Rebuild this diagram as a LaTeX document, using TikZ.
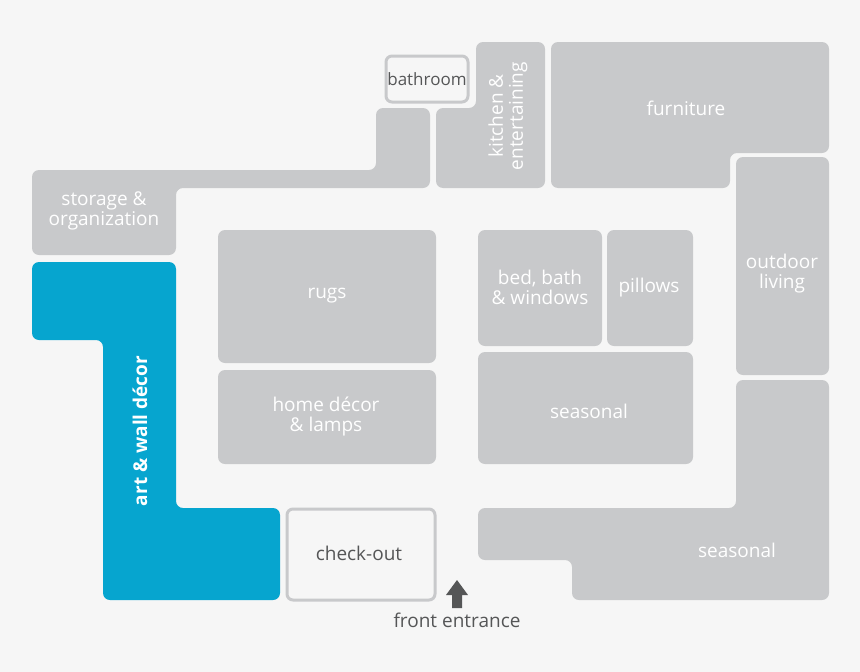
\documentclass[tikz,border=0pt]{standalone}
\usepackage{fontspec}
\setmainfont{Open Sans}
\begin{document}
\begin{tikzpicture}[x=1pt,y=-1pt,
 blk/.style={fill=gc,draw=none,rounded corners=7pt},
 outl/.style={fill=bg,draw=gc,line width=3pt,rounded corners=6pt},
 lbl/.style={text=white,font=\fontsize{19}{20}\selectfont,align=center,inner sep=0},
]
\definecolor{gc}{HTML}{C8C9CB}
\definecolor{bl}{HTML}{06A5CF}
\definecolor{bg}{HTML}{F6F6F6}
\definecolor{dk}{HTML}{555657}
\fill[bg] (0,0) rectangle (860,672);
\useasboundingbox (0,0) rectangle (860,672);
% shapes
\fill[blk] (32,170) -- (376,170) -- (376,108) -- (430,108) -- (430,188) -- (176,188) -- (176,255) -- (32,255) -- cycle;
\fill[blk] (476,42) -- (545,42) -- (545,188) -- (436,188) -- (436,108) -- (476,108) -- cycle;
\fill[blk] (551,42) -- (829,42) -- (829,153) -- (730,153) -- (730,188) -- (551,188) -- cycle;
\fill[blk] (736,157) rectangle (829,375);
\fill[blk] (736,380) -- (829,380) -- (829,600) -- (572,600) -- (572,560) -- (478,560) -- (478,508) -- (736,508) -- cycle;
\fill[bl,rounded corners=7pt] (32,262) -- (176,262) -- (176,508) -- (280,508) -- (280,600) -- (103,600) -- (103,340) -- (32,340) -- cycle;
\fill[blk] (218,230) rectangle (436,363);
\fill[blk] (218,370) rectangle (436,464);
\fill[blk] (478,230) rectangle (602,346);
\fill[blk] (607,230) rectangle (693,346);
\fill[blk] (478,352) rectangle (693,464);
\draw[outl] (386,56) rectangle (468,102);
\draw[outl] (287,509) rectangle (435,600);
% labels
\node[lbl] (storage) at (104,211) {storage \&\\organization};
\node[lbl,text=dk,font=\fontsize{17}{17}\selectfont] (bath) at (427,79) {bathroom};
\node[lbl,rotate=90] (kitchen) at (508,116) {kitchen \&\\entertaining};
\node[lbl] (furn) at (686,108) {furniture};
\node[lbl] (out) at (782,274) {outdoor\\living};
\node[lbl] (rugs) at (327,296) {rugs};
\node[lbl] (home) at (326,416) {home décor\\\& lamps};
\node[lbl] (bed) at (540,287) {bed, bath\\\& windows};
\node[lbl] (pil) at (649,288) {pillows};
\node[lbl] (seas1) at (589,411) {seasonal};
\node[lbl] (seas2) at (737,550) {seasonal};
\node[lbl,font=\bfseries\fontsize{19}{19}\selectfont,rotate=90] (art) at (140,431) {art \& wall décor};
\node[lbl,text=dk] (co) at (359,553) {check-out};
\node[lbl,text=dk] (fe) at (457,620) {front entrance};
\fill[dk] (452,608) -- (452,595) -- (446,595) -- (457,580) -- (468,595) -- (462,595) -- (462,608) -- cycle;
\end{tikzpicture}
\end{document}
